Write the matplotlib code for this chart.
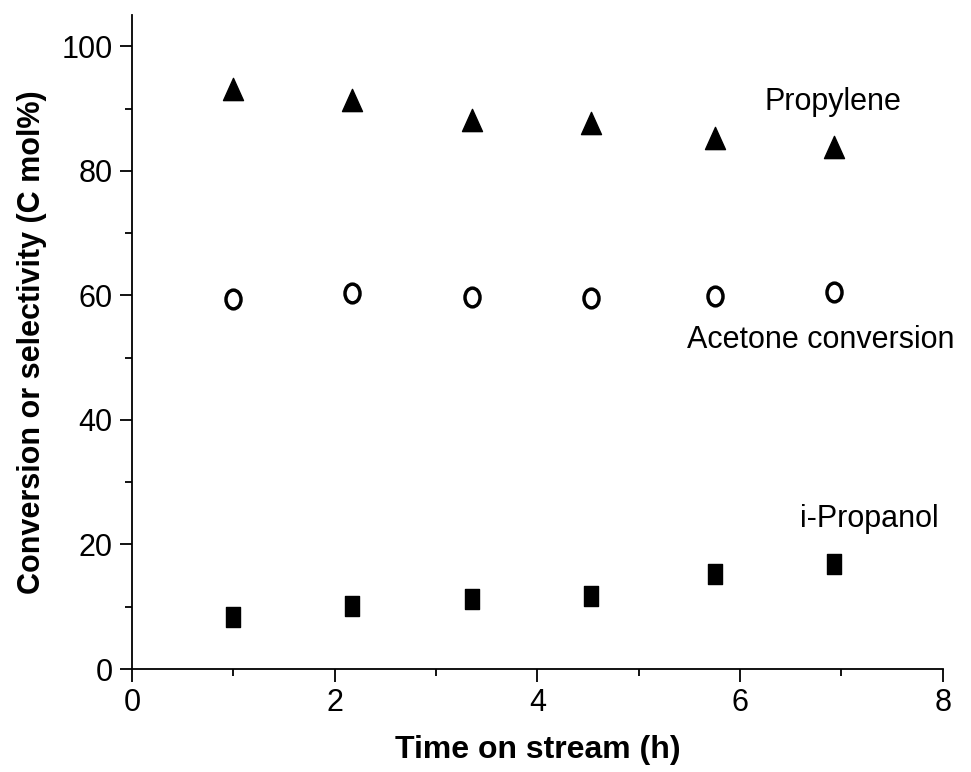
import matplotlib
matplotlib.use("Agg")
import matplotlib.pyplot as plt
from matplotlib.path import Path
from matplotlib.transforms import Affine2D
from matplotlib.ticker import MultipleLocator

plt.rcParams['font.family'] = ['Liberation Sans', 'DejaVu Sans']

time_h = [1.0, 2.17, 3.35, 4.53, 5.75, 6.93]
propylene = [93.2, 91.4, 88.1, 87.7, 85.2, 83.8]
acetone_conv = [59.4, 60.3, 59.8, 59.5, 59.9, 60.6]
i_propanol = [8.3, 10.1, 11.3, 11.8, 15.3, 16.9]

labels = ["Propylene", "Acetone conversion", "i-Propanol"]

tri = Path([(0, 1), (-0.9, -1), (0.9, -1), (0, 1)], closed=True)
sq = Path([(-0.74, -1), (0.74, -1), (0.74, 1), (-0.74, 1), (-0.74, -1)], closed=True)
ell = Path.unit_circle().transformed(Affine2D().scale(0.8, 1.0))

fig = plt.figure(figsize=(9.71, 7.72), dpi=100)
ax = fig.add_axes([0.136, 0.1334, 0.835, 0.847])

ax.plot(time_h, propylene, linestyle='none', marker=tri, ms=16, color='black')
ax.plot(time_h, acetone_conv, linestyle='none', marker=ell, ms=13.5, mfc='white',
        mec='black', mew=2.5)
ax.plot(time_h, i_propanol, linestyle='none', marker=sq, ms=14, color='black')

ax.set_xlim(0, 8)
ax.set_ylim(0, 105)
ax.spines['top'].set_visible(False)
ax.spines['right'].set_visible(False)
for s in ('left', 'bottom'):
    ax.spines[s].set_linewidth(1.3)
ax.set_xticks([0, 2, 4, 6, 8])
ax.set_yticks([0, 20, 40, 60, 80, 100])
ax.xaxis.set_minor_locator(MultipleLocator(1))
ax.yaxis.set_minor_locator(MultipleLocator(10))
ax.tick_params(which='major', direction='out', length=9, width=1.3, labelsize=22, pad=5)
ax.tick_params(which='minor', direction='out', length=5, width=1.3)

ax.set_xlabel("Time on stream (h)", fontsize=23, fontweight='bold', labelpad=12)
ax.set_ylabel("Conversion or selectivity (C mol%)", fontsize=22, fontweight='bold', labelpad=10)

ax.text(6.24, 91.0, labels[0], fontsize=22, ha='left', va='center')
ax.text(5.48, 52.9, labels[1], fontsize=22, ha='left', va='center')
ax.text(6.59, 24.1, labels[2], fontsize=22, ha='left', va='center')

fig.savefig("out.png", dpi=100)
